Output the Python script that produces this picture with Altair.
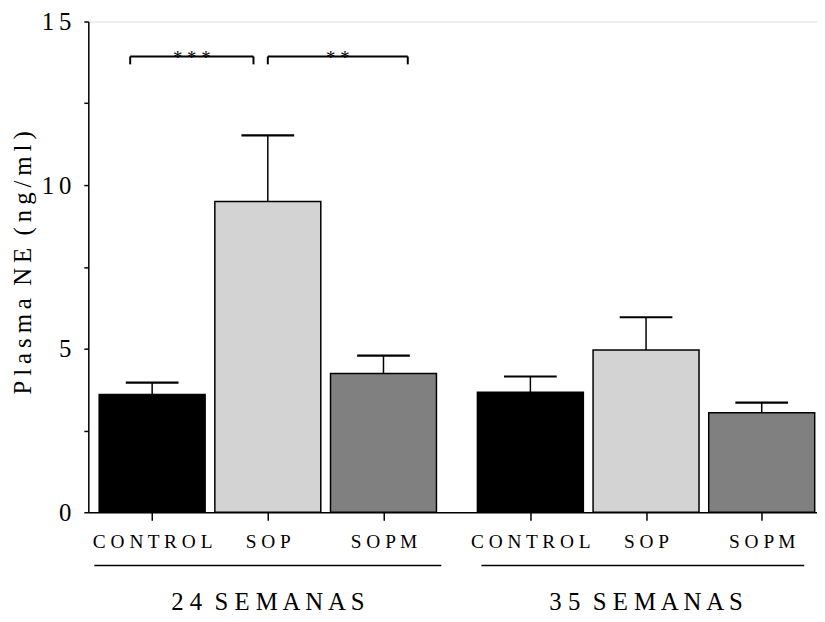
import altair as alt
import pandas as pd

# ---------------- data ----------------
groups = ["24 SEMANAS", "35 SEMANAS"]
categories = ["CONTROL", "SOP", "SOPM"]
means_24 = [3.60, 9.50, 4.24]
sem_24 = [0.36, 2.02, 0.55]
means_35 = [3.67, 4.96, 3.04]
sem_35 = [0.48, 1.00, 0.31]
fills = ["#000000", "#d3d3d3", "#808080"]
# significance brackets (24 semanas): from, to, stars
sig_from = ["CONTROL", "SOP"]
sig_to = ["SOP", "SOPM"]
sig_stars = ["***", "**"]
sig_level = 13.93

# ---------------- layout constants ----------------
OFFSET = 0.552      # first bar centre from axis, in bar steps
GAP = 0.27          # extra gap between the two groups
BAR_HALF = 0.458
CAP_HALF = 0.228
TICK_DROP = 0.24
FONT = "Liberation Serif"
THIN = "\u2009"
EN = "\u2002"


def spaced(text, sep=" ", word_sep=EN):
    return word_sep.join(sep.join(list(w)) for w in text.split(" "))


def pos(g, i):
    return OFFSET + i + g * (3 + GAP)


rows = []
all_means = [means_24, means_35]
all_sems = [sem_24, sem_35]
for g, grp in enumerate(groups):
    for i, cat in enumerate(categories):
        c = pos(g, i)
        m = all_means[g][i]
        s = all_sems[g][i]
        rows.append(dict(group=grp, category=cat, c=c, x0=c - BAR_HALF, x1=c + BAR_HALF,
                         cap0=c - CAP_HALF, cap1=c + CAP_HALF, mean=m, top=m + s, zero=0.0))
df = pd.DataFrame(rows)

# brackets (positions relative to bar centres, as drawn in the source figure)
br_offsets = [(-0.19, -0.124), (0.0, 0.21)]
br_rows = []
for k in range(len(sig_stars)):
    a = pos(0, categories.index(sig_from[k])) + br_offsets[k][0]
    b = pos(0, categories.index(sig_to[k])) + br_offsets[k][1]
    br_rows.append(dict(a=a, b=b, mid=(a + b) / 2, y=sig_level, ylow=sig_level - TICK_DROP,
                        stars=" ".join(list(sig_stars[k]))))
br = pd.DataFrame(br_rows)
br_ends = pd.concat([br[["a", "y", "ylow"]].rename(columns={"a": "xe"}),
                     br[["b", "y", "ylow"]].rename(columns={"b": "xe"})])

under_half = [(1.5, 1.5), (1.423, 1.368)]
grp_rows = []
for g, grp in enumerate(groups):
    gc = (pos(g, 0) + pos(g, 2)) / 2
    grp_rows.append(dict(group=grp, gc=gc, ga=gc - under_half[g][0], gb=gc + under_half[g][1],
                         label=spaced(grp)))
gdf = pd.DataFrame(grp_rows)

# ---------------- scales & axes ----------------
centers = list(df["c"])
labels = [spaced(c) for c in list(df["category"])]
expr = "''"
for k in range(len(centers) - 1, -1, -1):
    lim = centers[k] + 0.5
    expr = f"datum.value < {lim:.3f} ? '{labels[k]}' : ({expr})"

yvals = [v * 2.5 for v in range(7)]
yexpr = "''"
for v in [15, 10, 5, 0]:
    yexpr = f"datum.value == {v} ? '{THIN.join(str(v))}' : ({yexpr})"

xscale = alt.Scale(domain=[0, 6.3], nice=False, zero=False)
yscale = alt.Scale(domain=[0, 15], nice=False)

xaxis = alt.Axis(values=centers, labelExpr=expr, title=None, grid=False, ticks=True,
                 tickSize=8, tickWidth=1.5, domainWidth=1.5, labelFont=FONT, labelFontSize=19.5,
                 labelPadding=12.3, labelColor="black", labelAngle=0, domainColor="black",
                 tickColor="black", labelFlush=False, labelOverlap=False)
yaxis = alt.Axis(values=yvals, labelExpr=yexpr, title=spaced("Plasma NE (ng/ml)", sep=THIN),
                 grid=False, tickSize=4.5, tickWidth=1.5, domainWidth=1.5, labelFont=FONT,
                 labelFontSize=25, labelPadding=13, labelColor="black", domainColor="black",
                 tickColor="black", titleFont=FONT, titleFontSize=25, titleFontWeight="normal",
                 titleColor="black", titleAngle=-90, titleX=-66, titleY=243,
                 titleAlign="center", titleBaseline="middle", labelOverlap=False, labelFlush=False)

base = alt.Chart(df)

bars = base.mark_bar(stroke="black", strokeWidth=1.5).encode(
    x=alt.X("x0:Q", scale=xscale, axis=xaxis),
    x2="x1:Q",
    y=alt.Y("mean:Q", scale=yscale, axis=yaxis),
    y2="zero:Q",
    color=alt.Color("category:N", scale=alt.Scale(domain=categories, range=fills), legend=None),
)

err = base.mark_rule(color="black", strokeWidth=1.5).encode(
    x="c:Q", y="mean:Q", y2="top:Q")
caps = base.mark_rule(color="black", strokeWidth=2.2).encode(
    x="cap0:Q", x2="cap1:Q", y="top:Q")

bchart = alt.Chart(br)
br_line = bchart.mark_rule(color="black", strokeWidth=2).encode(x="a:Q", x2="b:Q", y="y:Q")
br_tick = alt.Chart(br_ends).mark_rule(color="black", strokeWidth=2).encode(
    x="xe:Q", y="y:Q", y2="ylow:Q")
br_text = bchart.mark_text(font=FONT, fontSize=19, baseline="alphabetic", color="black").encode(
    x="mid:Q", y="ylow:Q", text="stars:N")

gchart = alt.Chart(gdf)
g_line = gchart.mark_rule(color="black", strokeWidth=1.5).encode(
    x="ga:Q", x2="gb:Q", y=alt.value(548.7))
g_text = gchart.mark_text(font=FONT, fontSize=25, baseline="alphabetic", color="black").encode(
    x="gc:Q", y=alt.value(594), text="label:N")

chart = alt.layer(bars, err, caps, br_line, br_tick, br_text, g_line, g_text).properties(
    width=735, height=495,
    autosize=alt.AutoSizeParams(type="none"),
    padding={"left": 81, "top": 11, "right": 0, "bottom": 100},
).configure_view(stroke=None).configure(background="white")

chart.save("out.html", embed_options={"renderer": "svg", "actions": False})
